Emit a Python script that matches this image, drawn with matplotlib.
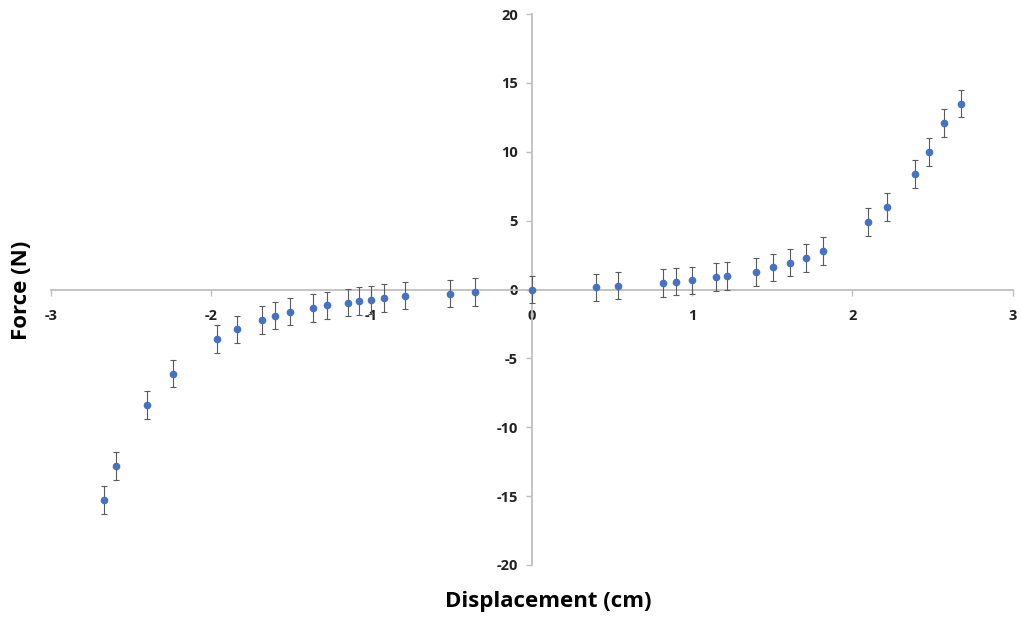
import numpy as np
import matplotlib.pyplot as plt

# Data
disp = [-2.665, -2.59, -2.40, -2.24, -1.965, -1.84, -1.68, -1.60, -1.506, -1.366,
        -1.275, -1.146, -1.074, -1.0, -0.92, -0.79, -0.51, -0.35, 0.0,
        0.40, 0.536, 0.82, 0.90, 1.003, 1.15, 1.22, 1.40, 1.505, 1.61, 1.71, 1.82,
        2.10, 2.22, 2.39, 2.48, 2.57, 2.68]
force = [-15.3, -12.8, -8.4, -6.1, -3.6, -2.9, -2.2, -1.9, -1.6, -1.35,
         -1.15, -0.95, -0.85, -0.75, -0.6, -0.45, -0.3, -0.2, 0.0,
         0.15, 0.28, 0.48, 0.57, 0.66, 0.9, 1.0, 1.27, 1.6, 1.95, 2.3, 2.8,
         4.9, 6.0, 8.4, 10.0, 12.1, 13.5]
err = [1.0] * len(force)

xticks = [-3, -2, -1, 0, 1, 2, 3]
yticks = [-20, -15, -10, -5, 0, 5, 10, 15, 20]

plt.rcParams['font.family'] = ['Open Sans', 'DejaVu Sans']
plt.rcParams['axes.unicode_minus'] = False

fig = plt.figure(figsize=(10.21, 6.21), dpi=100)
ax = fig.add_axes([50.7/1021, 1 - 565/621, (1012.5 - 50.7)/1021, (565 - 14)/621])

ax.errorbar(disp, force, yerr=err, fmt='o', color='#4472C4', markersize=4.5,
            ecolor='#5a5a5a', elinewidth=0.8, capsize=2.5, capthick=0.8, zorder=3)

ax.set_xlim(-3, 3)
ax.set_ylim(-20, 20)
ax.set_xticks(xticks)
ax.set_yticks(yticks)

# spines through origin
for s in ['top', 'right']:
    ax.spines[s].set_visible(False)
ax.spines['left'].set_position(('data', 0))
ax.spines['bottom'].set_position(('data', 0))
for s in ['left', 'bottom']:
    ax.spines[s].set_color('#bfbfbf')
    ax.spines[s].set_linewidth(1.3)

ax.tick_params(axis='both', colors='#bfbfbf', length=4, width=1)
ax.tick_params(axis='x', direction='out', pad=10)
ax.tick_params(axis='y', direction='out', pad=6)
for lab in ax.get_xticklabels() + ax.get_yticklabels():
    lab.set_color('#222222')
    lab.set_fontweight('bold')
    lab.set_fontsize(10.5)

fig.text(548/1021, 1 - 602/621, 'Displacement (cm)', ha='center', va='center',
         fontsize=16, fontweight='bold')
fig.text(22/1021, 1 - 290/621, 'Force (N)', ha='center', va='center',
         rotation=90, fontsize=16, fontweight='bold')

fig.savefig('out.png', dpi=100)
